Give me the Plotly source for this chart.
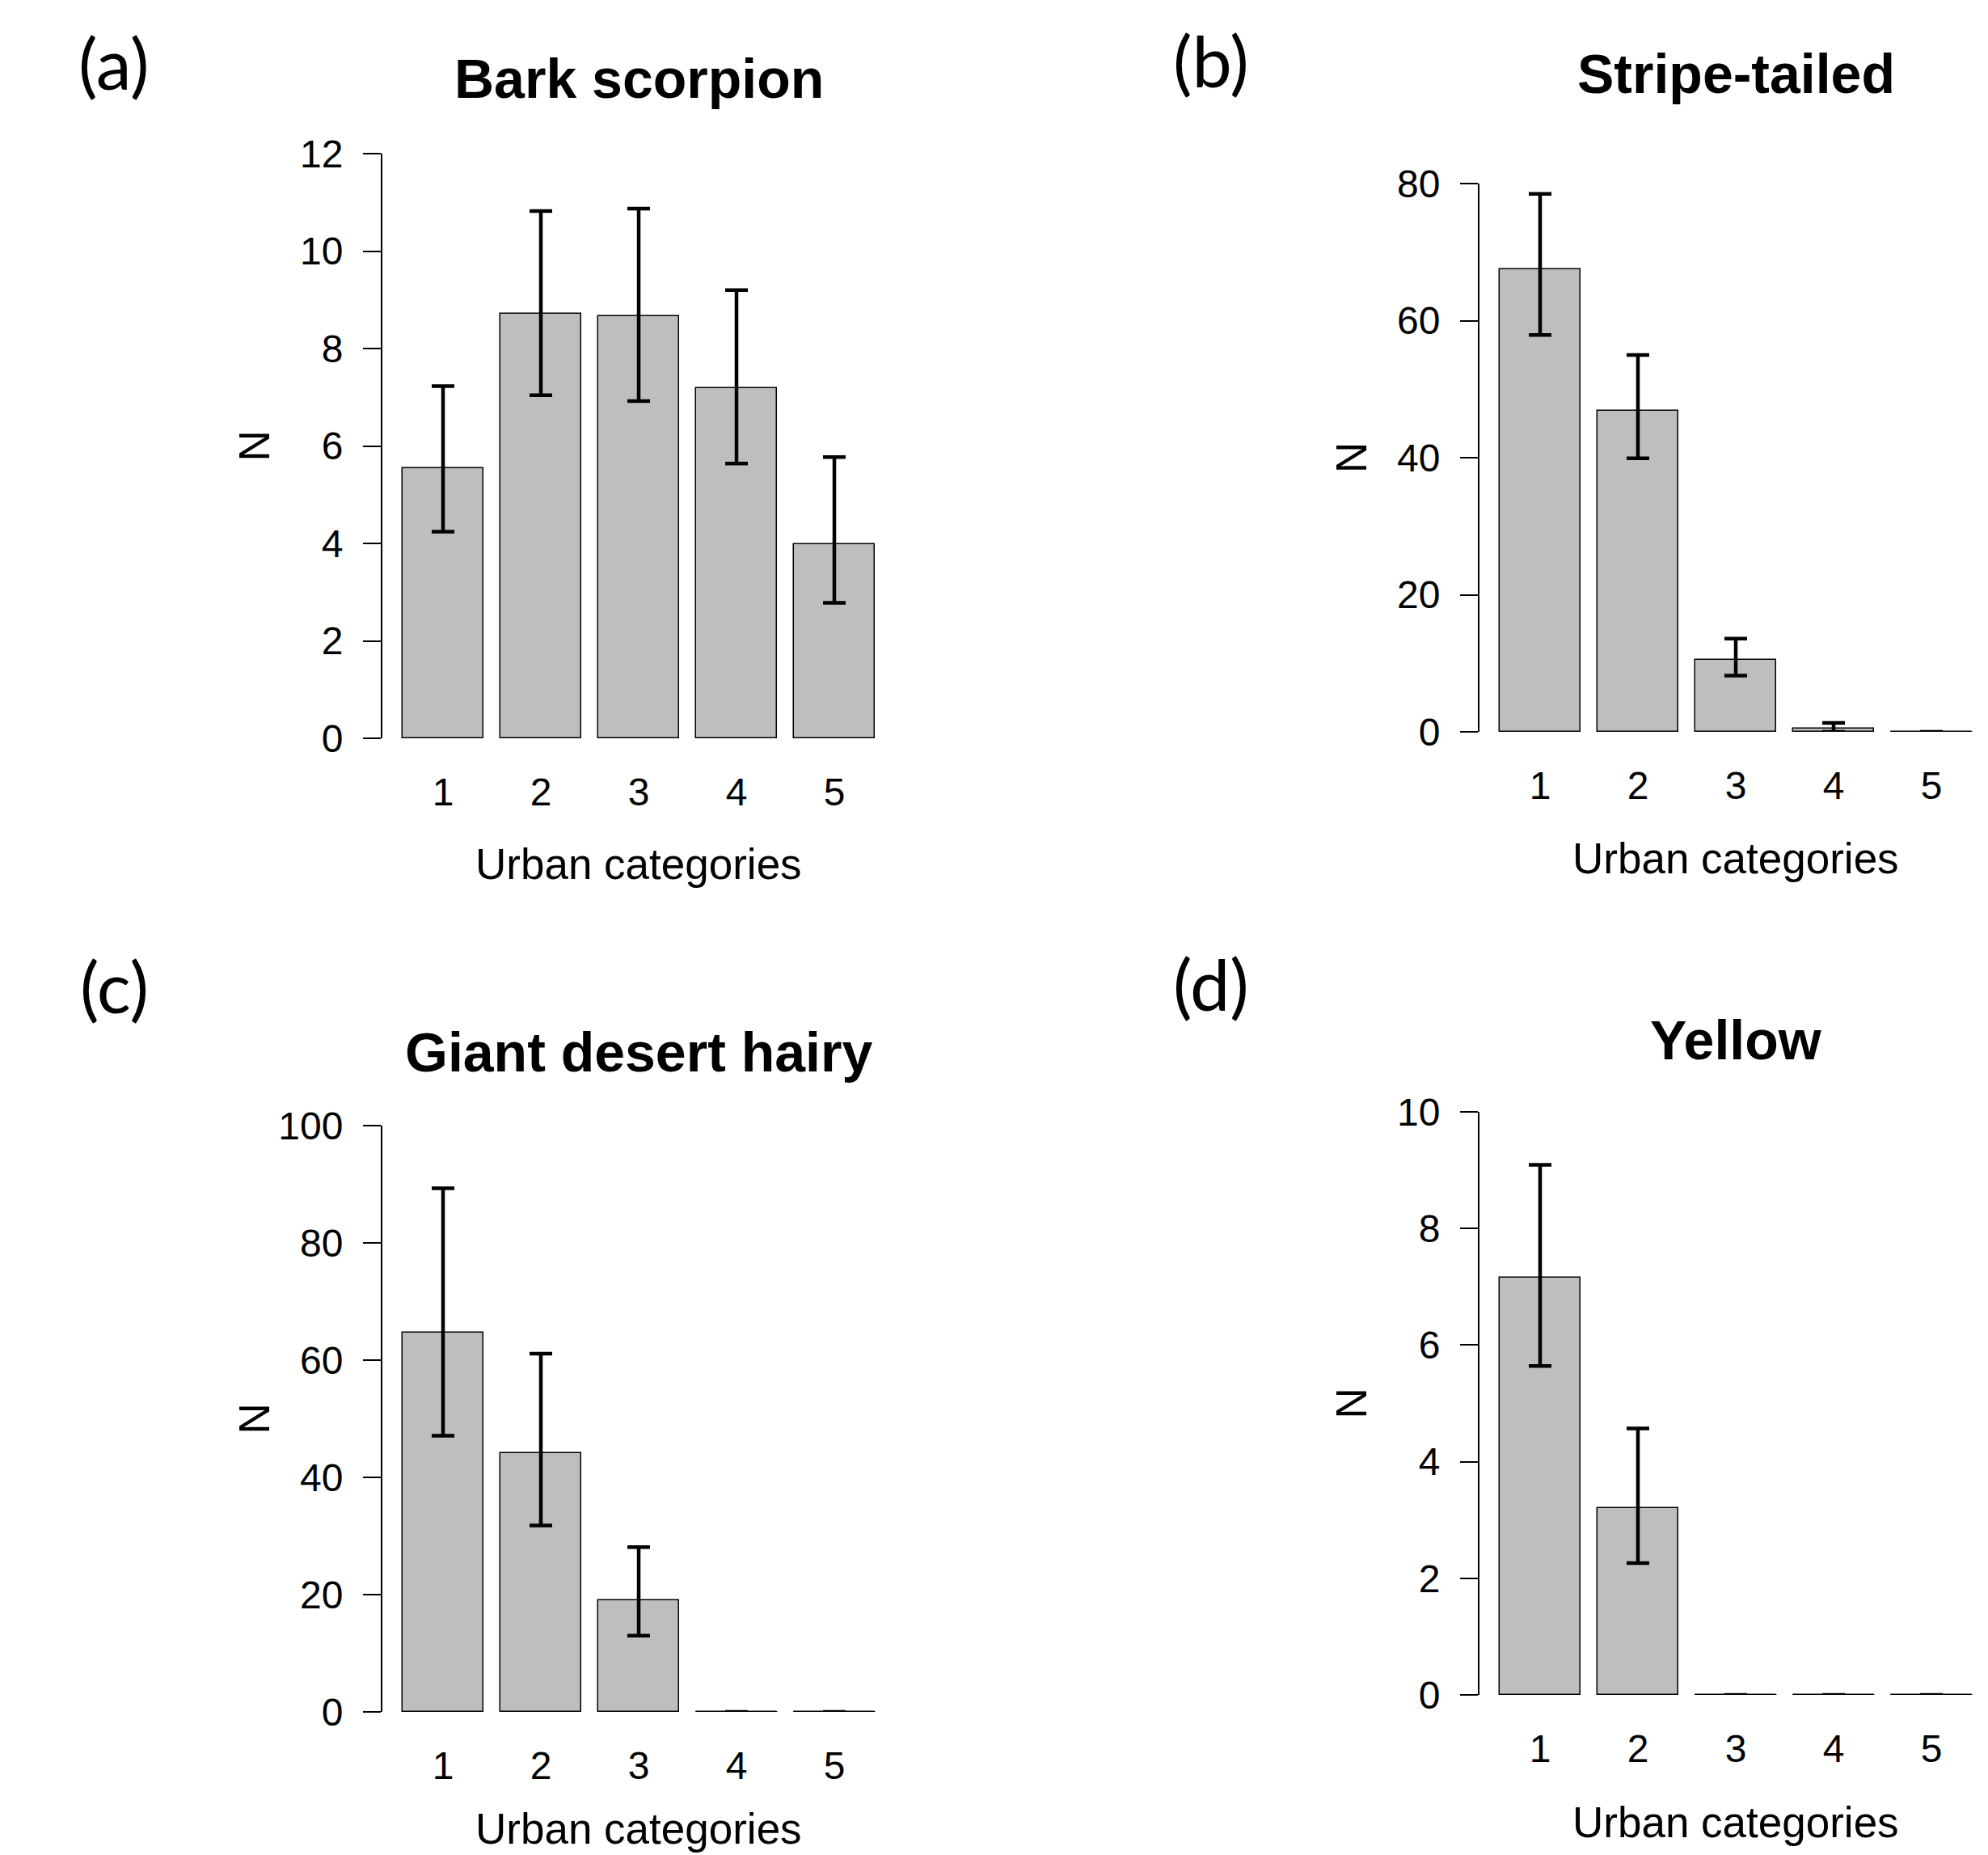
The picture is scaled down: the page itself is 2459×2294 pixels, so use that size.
import plotly.graph_objects as go

# ---------------- data ----------------
categories = [1, 2, 3, 4, 5]
tick_labels = ["1", "2", "3", "4", "5"]

bark_mean = [5.54, 8.72, 8.67, 7.19, 3.99]
bark_upper = [7.23, 10.82, 10.87, 9.20, 5.77]
bark_lower = [4.24, 7.04, 6.92, 5.64, 2.78]

stripe_mean = [67.5, 46.9, 10.5, 0.43, 0]
stripe_upper = [78.5, 55.0, 13.6, 1.3, 0]
stripe_lower = [57.9, 39.9, 8.2, 0.0, 0]

giant_mean = [64.7, 44.1, 19.1, 0, 0]
giant_upper = [89.3, 61.1, 28.1, 0, 0]
giant_lower = [47.1, 31.8, 13.0, 0, 0]

yellow_mean = [7.15, 3.20, 0, 0, 0]
yellow_upper = [9.09, 4.57, 0, 0, 0]
yellow_lower = [5.64, 2.26, 0, 0, 0]

titles = ["Bark scorpion", "Stripe-tailed", "Giant desert hairy", "Yellow"]
panel_labels = ["(a)", "(b)", "(c)", "(d)"]
y_max = [12, 80, 100, 10]
y_dtick = [2, 20, 20, 2]

# ---------------- layout geometry (pixels) ----------------
W, H = 2459, 2294
FONT = "Liberation Sans, Arial, Helvetica, sans-serif"
BAR_W = 1 / 1.2
PX_PER_CAT = 121.0

# (axis_x_px, right_px, y0_px, ytop_px, title_y_px, label_y_px, xlabel_y_px)
geom = [
    (473, 1107, 913, 190, 97, 77, 1068),
    (1830, 2455, 905, 227, 91, 74, 1061),
    (473, 1107, 2117, 1392, 1301, 1219, 2261),
    (1830, 2455, 2096, 1375, 1286, 1216, 2253),
]

series = [
    (bark_mean, bark_upper, bark_lower),
    (stripe_mean, stripe_upper, stripe_lower),
    (giant_mean, giant_upper, giant_lower),
    (yellow_mean, yellow_upper, yellow_lower),
]

fig = go.Figure()
annotations = []

for i, ((m, up, lo), (ax_px, r_px, y0_px, yt_px, t_y, l_y, xl_y)) in enumerate(zip(series, geom)):
    xa = "x" if i == 0 else f"x{i+1}"
    ya = "y" if i == 0 else f"y{i+1}"
    err_plus = [u - v for u, v in zip(up, m)]
    err_minus = [v - l for v, l in zip(m, lo)]
    fig.add_trace(go.Bar(
        x=categories, y=m, width=BAR_W, xaxis=xa, yaxis=ya,
        marker=dict(color="#bebebe", line=dict(color="black", width=1.5)),
        error_y=dict(type="data", symmetric=False, array=err_plus, arrayminus=err_minus,
                     color="black", thickness=4.5, width=14),
        showlegend=False, hoverinfo="skip",
    ))
    # zero-height bars are drawn by R as a flat outline
    for c, v in zip(categories, m):
        if v == 0:
            fig.add_trace(go.Scatter(
                x=[c - BAR_W / 2, c + BAR_W / 2], y=[0, 0], mode="lines",
                line=dict(color="black", width=1.8), xaxis=xa, yaxis=ya,
                showlegend=False, hoverinfo="skip", cliponaxis=False,
            ))

    x_lo = 1 - 75 / PX_PER_CAT
    x_hi = x_lo + (r_px - ax_px) / PX_PER_CAT
    dom_x = [ax_px / W, r_px / W]
    dom_y = [1 - y0_px / H, 1 - yt_px / H]
    xkey = "xaxis" if i == 0 else f"xaxis{i+1}"
    ykey = "yaxis" if i == 0 else f"yaxis{i+1}"
    fig.update_layout(**{
        xkey: dict(domain=dom_x, range=[x_lo, x_hi], anchor=ya, showline=False,
                   showgrid=False, zeroline=False, tickvals=categories, ticktext=tick_labels,
                   ticks="outside", ticklen=24, tickcolor="rgba(0,0,0,0)", automargin=False,
                   tickfont=dict(family=FONT, size=48, color="black"), fixedrange=True),
        ykey: dict(domain=dom_y, range=[0, y_max[i]], anchor=xa, showline=True,
                   linecolor="black", linewidth=2, showgrid=False, zeroline=False,
                   ticks="outside", ticklen=22, tickwidth=2, tickcolor="black",
                   dtick=y_dtick[i], tick0=0, ticklabelstandoff=15, automargin=False,
                   tickfont=dict(family=FONT, size=48, color="black"), fixedrange=True),
    })

    cx = (ax_px + 75 + 2 * PX_PER_CAT) / W  # centre of bar 3
    annotations.append(dict(text=f"<b>{titles[i]}</b>", x=cx, y=1 - t_y / H, xref="paper",
                            yref="paper", xanchor="center", yanchor="middle", showarrow=False,
                            font=dict(family=FONT, size=68, color="black")))
    annotations.append(dict(text=panel_labels[i], x=(ax_px - 332) / W, y=1 - l_y / H,
                            xref="paper", yref="paper", xanchor="center", yanchor="middle",
                            showarrow=False, font=dict(family="Lato, Carlito, sans-serif",
                                                       size=88, color="black")))
    annotations.append(dict(text="Urban categories", x=cx, y=1 - xl_y / H, xref="paper",
                            yref="paper", xanchor="center", yanchor="middle", showarrow=False,
                            font=dict(family=FONT, size=53, color="black")))
    annotations.append(dict(text="N", x=(ax_px - 159) / W,
                            y=1 - ((y0_px + yt_px) / 2) / H, xref="paper", yref="paper",
                            xanchor="center", yanchor="middle", textangle=-90, showarrow=False,
                            font=dict(family=FONT, size=53, color="black")))

fig.update_layout(template="none", width=W, height=H, autosize=False,
                  margin=dict(l=0, r=0, t=0, b=0, pad=0, autoexpand=False),
                  paper_bgcolor="white", plot_bgcolor="white", annotations=annotations,
                  bargap=0, showlegend=False)
fig.write_html("out.html", config={"displayModeBar": False, "responsive": False},
               post_script="document.body.style.margin='0px';document.body.style.overflow='hidden';")
